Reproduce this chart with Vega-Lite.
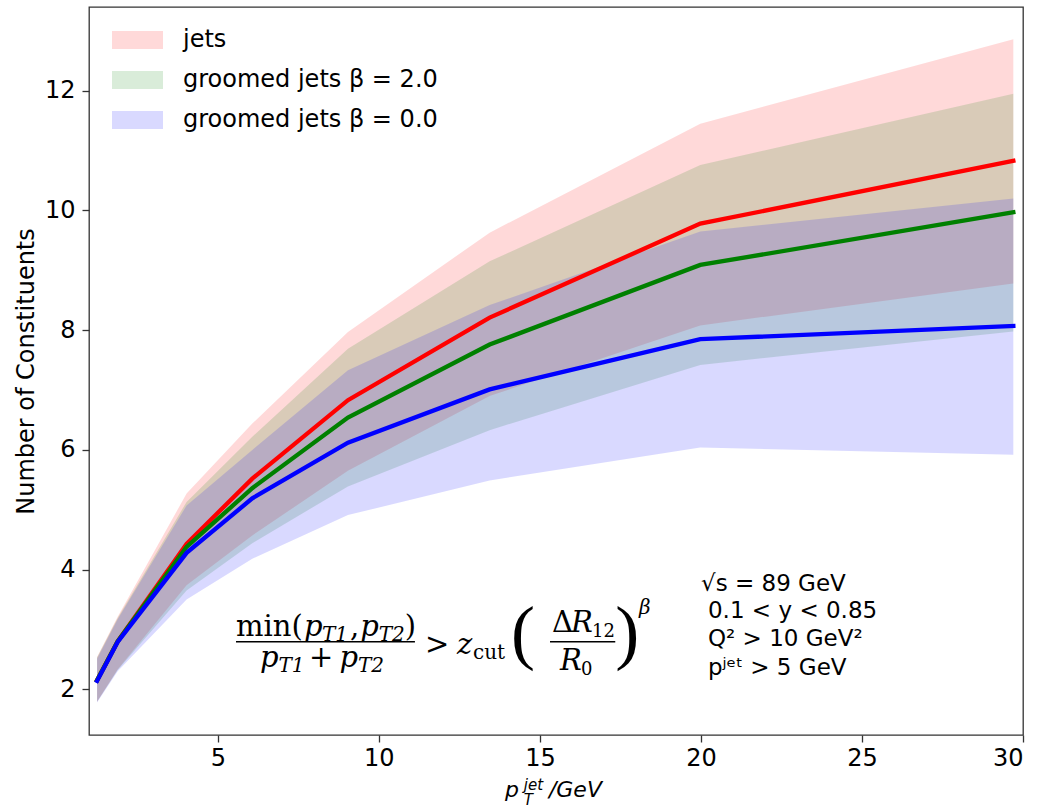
{
  "$schema": "https://vega.github.io/schema/vega-lite/v6.json",
  "width": 934,
  "height": 728,
  "autosize": {"type": "none"},
  "padding": {"left": 89, "top": 7, "right": 15, "bottom": 74},
  "background": "white",
  "config": {
    "font": "DejaVu Sans",
    "view": {"stroke": "#333333", "strokeWidth": 1.3},
    "axis": {
      "grid": false,
      "domain": false,
      "tickColor": "#333333",
      "tickWidth": 1.3,
      "tickSize": 7,
      "labelFont": "DejaVu Sans",
      "labelFontSize": 24,
      "labelColor": "black",
      "titleFont": "DejaVu Sans",
      "titleFontSize": 24,
      "titleColor": "black",
      "titleFontWeight": "normal"
    }
  },
  "datasets": {
    "bands": [
      {"series": "jets", "x": 1.25, "mean": 2.15, "lo": 1.79, "hi": 2.54},
      {"series": "jets", "x": 1.89, "mean": 2.80, "lo": 2.33, "hi": 3.21},
      {"series": "jets", "x": 4.03, "mean": 4.43, "lo": 3.74, "hi": 5.27},
      {"series": "jets", "x": 6.07, "mean": 5.52, "lo": 4.57, "hi": 6.44},
      {"series": "jets", "x": 9.04, "mean": 6.83, "lo": 5.65, "hi": 7.97},
      {"series": "jets", "x": 13.44, "mean": 8.21, "lo": 6.90, "hi": 9.63},
      {"series": "jets", "x": 19.98, "mean": 9.78, "lo": 8.08, "hi": 11.45},
      {"series": "jets", "x": 29.7, "mean": 10.83, "lo": 8.78, "hi": 12.86},
      {"series": "groomed jets β = 2.0", "x": 1.25, "mean": 2.15, "lo": 1.79, "hi": 2.53},
      {"series": "groomed jets β = 2.0", "x": 1.89, "mean": 2.80, "lo": 2.32, "hi": 3.19},
      {"series": "groomed jets β = 2.0", "x": 4.03, "mean": 4.38, "lo": 3.65, "hi": 5.13},
      {"series": "groomed jets β = 2.0", "x": 6.07, "mean": 5.36, "lo": 4.44, "hi": 6.22},
      {"series": "groomed jets β = 2.0", "x": 9.04, "mean": 6.54, "lo": 5.39, "hi": 7.69},
      {"series": "groomed jets β = 2.0", "x": 13.44, "mean": 7.76, "lo": 6.33, "hi": 9.15},
      {"series": "groomed jets β = 2.0", "x": 19.98, "mean": 9.09, "lo": 7.42, "hi": 10.76},
      {"series": "groomed jets β = 2.0", "x": 29.7, "mean": 9.97, "lo": 7.98, "hi": 11.95},
      {"series": "groomed jets β = 0.0", "x": 1.25, "mean": 2.14, "lo": 1.78, "hi": 2.51},
      {"series": "groomed jets β = 0.0", "x": 1.89, "mean": 2.79, "lo": 2.30, "hi": 3.17},
      {"series": "groomed jets β = 0.0", "x": 4.03, "mean": 4.28, "lo": 3.50, "hi": 5.07},
      {"series": "groomed jets β = 0.0", "x": 6.07, "mean": 5.19, "lo": 4.18, "hi": 6.00},
      {"series": "groomed jets β = 0.0", "x": 9.04, "mean": 6.12, "lo": 4.91, "hi": 7.33},
      {"series": "groomed jets β = 0.0", "x": 13.44, "mean": 7.01, "lo": 5.49, "hi": 8.42},
      {"series": "groomed jets β = 0.0", "x": 19.98, "mean": 7.85, "lo": 6.04, "hi": 9.65},
      {"series": "groomed jets β = 0.0", "x": 29.7, "mean": 8.07, "lo": 5.92, "hi": 10.20}
    ]
  },
  "layer": [
    {
      "data": {"name": "bands"},
      "mark": {"type": "area", "fillOpacity": 0.15, "strokeWidth": 0},
      "encoding": {
        "x": {"field": "x", "type": "quantitative",
          "scale": {"domain": [1, 30], "nice": false, "zero": false},
          "axis": {"values": [5, 10, 15, 20, 25, 30], "title": null, "labelPadding": 4, "format": "d"}},
        "y": {"field": "lo", "type": "quantitative",
          "scale": {"domain": [1.236, 13.4], "nice": false, "zero": false},
          "axis": {"values": [2, 4, 6, 8, 10, 12], "format": "d", "title": "Number of Constituents", "labelPadding": 7, "titlePadding": 6}},
        "y2": {"field": "hi"},
        "fill": {"field": "series", "type": "nominal",
          "scale": {"domain": ["jets", "groomed jets β = 2.0", "groomed jets β = 0.0"], "range": ["#ff0000", "#008000", "#0000ff"]},
          "legend": {"title": null, "orient": "none", "legendX": 33.5, "legendY": 18,
            "symbolType": "M-1.7,-0.6H1.7V0.6H-1.7Z", "symbolSize": 900, "symbolOpacity": 0.15,
            "symbolStrokeWidth": 0, "labelFontSize": 24, "labelFont": "DejaVu Sans", "labelColor": "black",
            "labelOffset": 30.5, "rowPadding": 13, "padding": 0, "labelLimit": 500}}
      }
    },
    {
      "data": {"name": "bands"},
      "mark": {"type": "line", "strokeWidth": 4.3, "strokeCap": "square"},
      "encoding": {
        "x": {"field": "x", "type": "quantitative"},
        "y": {"field": "mean", "type": "quantitative"},
        "stroke": {"field": "series", "type": "nominal",
          "scale": {"domain": ["jets", "groomed jets β = 2.0", "groomed jets β = 0.0"], "range": ["#ff0000", "#008000", "#0000ff"]},
          "legend": null}
      }
    },
    {"data": {"values": [{}]}, "mark": {"type": "text", "text": "min(", "font": "DejaVu Serif", "fontSize": 29, "align": "left", "baseline": "alphabetic"}, "encoding": {"x": {"datum": 5.564}, "y": {"datum": 2.890}}},
    {"data": {"values": [{}]}, "mark": {"type": "text", "text": "p", "font": "DejaVu Serif", "fontStyle": "italic", "fontSize": 29, "align": "left", "baseline": "alphabetic"}, "encoding": {"x": {"datum": 7.676}, "y": {"datum": 2.890}}},
    {"data": {"values": [{}]}, "mark": {"type": "text", "text": "T1", "font": "DejaVu Serif", "fontStyle": "italic", "fontSize": 20, "align": "left", "baseline": "alphabetic"}, "encoding": {"x": {"datum": 8.234}, "y": {"datum": 2.807}}},
    {"data": {"values": [{}]}, "mark": {"type": "text", "text": ",", "font": "DejaVu Serif", "fontSize": 29, "align": "left", "baseline": "alphabetic"}, "encoding": {"x": {"datum": 9.10}, "y": {"datum": 2.890}}},
    {"data": {"values": [{}]}, "mark": {"type": "text", "text": "p", "font": "DejaVu Serif", "fontStyle": "italic", "fontSize": 29, "align": "left", "baseline": "alphabetic"}, "encoding": {"x": {"datum": 9.42}, "y": {"datum": 2.890}}},
    {"data": {"values": [{}]}, "mark": {"type": "text", "text": "T2", "font": "DejaVu Serif", "fontStyle": "italic", "fontSize": 20, "align": "left", "baseline": "alphabetic"}, "encoding": {"x": {"datum": 9.995}, "y": {"datum": 2.807}}},
    {"data": {"values": [{}]}, "mark": {"type": "text", "text": ")", "font": "DejaVu Serif", "fontSize": 29, "align": "left", "baseline": "alphabetic"}, "encoding": {"x": {"datum": 10.80}, "y": {"datum": 2.890}}},
    {"data": {"values": [{}]}, "mark": {"type": "rule", "color": "black", "strokeWidth": 1.5}, "encoding": {"x": {"datum": 5.564}, "x2": {"datum": 11.12}, "y": {"datum": 2.795}}},
    {"data": {"values": [{}]}, "mark": {"type": "text", "text": "p", "font": "DejaVu Serif", "fontStyle": "italic", "fontSize": 29, "align": "left", "baseline": "alphabetic"}, "encoding": {"x": {"datum": 6.309}, "y": {"datum": 2.372}}},
    {"data": {"values": [{}]}, "mark": {"type": "text", "text": "T1", "font": "DejaVu Serif", "fontStyle": "italic", "fontSize": 20, "align": "left", "baseline": "alphabetic"}, "encoding": {"x": {"datum": 6.884}, "y": {"datum": 2.289}}},
    {"data": {"values": [{}]}, "mark": {"type": "text", "text": "+", "font": "DejaVu Serif", "fontSize": 29, "align": "left", "baseline": "alphabetic"}, "encoding": {"x": {"datum": 7.831}, "y": {"datum": 2.372}}},
    {"data": {"values": [{}]}, "mark": {"type": "text", "text": "p", "font": "DejaVu Serif", "fontStyle": "italic", "fontSize": 29, "align": "left", "baseline": "alphabetic"}, "encoding": {"x": {"datum": 8.778}, "y": {"datum": 2.372}}},
    {"data": {"values": [{}]}, "mark": {"type": "text", "text": "T2", "font": "DejaVu Serif", "fontStyle": "italic", "fontSize": 20, "align": "left", "baseline": "alphabetic"}, "encoding": {"x": {"datum": 9.352}, "y": {"datum": 2.289}}},
    {"data": {"values": [{}]}, "mark": {"type": "text", "text": ">", "font": "DejaVu Serif", "fontSize": 29, "align": "left", "baseline": "alphabetic"}, "encoding": {"x": {"datum": 11.433}, "y": {"datum": 2.590}}},
    {"data": {"values": [{}]}, "mark": {"type": "text", "text": "z", "font": "DejaVu Serif", "fontStyle": "italic", "fontSize": 29, "align": "left", "baseline": "alphabetic"}, "encoding": {"x": {"datum": 12.426}, "y": {"datum": 2.590}}},
    {"data": {"values": [{}]}, "mark": {"type": "text", "text": "cut", "font": "DejaVu Serif", "fontSize": 20, "align": "left", "baseline": "alphabetic"}, "encoding": {"x": {"datum": 12.923}, "y": {"datum": 2.506}}},
    {"data": {"values": [{}]}, "mark": {"type": "text", "text": "(", "font": "Liberation Serif", "fontSize": 72, "align": "left", "baseline": "alphabetic"}, "encoding": {"x": {"datum": 14.103}, "y": {"datum": 2.556}}},
    {"data": {"values": [{}]}, "mark": {"type": "text", "text": "Δ", "font": "DejaVu Serif", "fontSize": 29, "align": "left", "baseline": "alphabetic"}, "encoding": {"x": {"datum": 15.376}, "y": {"datum": 2.957}}},
    {"data": {"values": [{}]}, "mark": {"type": "text", "text": "R", "font": "DejaVu Serif", "fontStyle": "italic", "fontSize": 29, "align": "left", "baseline": "alphabetic"}, "encoding": {"x": {"datum": 15.966}, "y": {"datum": 2.957}}},
    {"data": {"values": [{}]}, "mark": {"type": "text", "text": "12", "font": "DejaVu Serif", "fontSize": 18, "align": "left", "baseline": "alphabetic"}, "encoding": {"x": {"datum": 16.62}, "y": {"datum": 2.874}}},
    {"data": {"values": [{}]}, "mark": {"type": "rule", "color": "black", "strokeWidth": 1.5}, "encoding": {"x": {"datum": 15.314}, "x2": {"datum": 17.34}, "y": {"datum": 2.795}}},
    {"data": {"values": [{}]}, "mark": {"type": "text", "text": "R", "font": "DejaVu Serif", "fontStyle": "italic", "fontSize": 29, "align": "left", "baseline": "alphabetic"}, "encoding": {"x": {"datum": 15.624}, "y": {"datum": 2.322}}},
    {"data": {"values": [{}]}, "mark": {"type": "text", "text": "0", "font": "DejaVu Serif", "fontSize": 18, "align": "left", "baseline": "alphabetic"}, "encoding": {"x": {"datum": 16.276}, "y": {"datum": 2.239}}},
    {"data": {"values": [{}]}, "mark": {"type": "text", "text": ")", "font": "Liberation Serif", "fontSize": 72, "align": "left", "baseline": "alphabetic"}, "encoding": {"x": {"datum": 17.34}, "y": {"datum": 2.556}}},
    {"data": {"values": [{}]}, "mark": {"type": "text", "text": "β", "font": "DejaVu Serif", "fontStyle": "italic", "fontSize": 20, "align": "left", "baseline": "alphabetic"}, "encoding": {"x": {"datum": 18.08}, "y": {"datum": 3.258}}},
    {"data": {"values": [{}]}, "mark": {"type": "text", "text": "√s = 89 GeV", "font": "DejaVu Sans", "fontSize": 23, "align": "left", "baseline": "alphabetic"}, "encoding": {"x": {"datum": 20.002}, "y": {"datum": 3.642}}},
    {"data": {"values": [{}]}, "mark": {"type": "text", "text": "0.1 < y < 0.85", "font": "DejaVu Sans", "fontSize": 23, "align": "left", "baseline": "alphabetic"}, "encoding": {"x": {"datum": 20.219}, "y": {"datum": 3.191}}},
    {"data": {"values": [{}]}, "mark": {"type": "text", "text": "Q² > 10 GeV²", "font": "DejaVu Sans", "fontSize": 23, "align": "left", "baseline": "alphabetic"}, "encoding": {"x": {"datum": 20.219}, "y": {"datum": 2.723}}},
    {"data": {"values": [{}]}, "mark": {"type": "text", "text": "pʲᵉᵗ > 5 GeV", "font": "DejaVu Sans", "fontSize": 23, "align": "left", "baseline": "alphabetic"}, "encoding": {"x": {"datum": 20.219}, "y": {"datum": 2.239}}},
    {"data": {"values": [{}]}, "mark": {"type": "text", "text": "p", "font": "DejaVu Sans", "fontStyle": "italic", "fontSize": 22, "align": "left", "baseline": "alphabetic"}, "encoding": {"x": {"datum": 13.916}, "y": {"datum": 0.20}}},
    {"data": {"values": [{}]}, "mark": {"type": "text", "text": "jet", "font": "DejaVu Sans", "fontStyle": "italic", "fontSize": 15, "align": "left", "baseline": "alphabetic"}, "encoding": {"x": {"datum": 14.50}, "y": {"datum": 0.317}}},
    {"data": {"values": [{}]}, "mark": {"type": "text", "text": "T", "font": "DejaVu Sans", "fontStyle": "italic", "fontSize": 15, "align": "left", "baseline": "alphabetic"}, "encoding": {"x": {"datum": 14.50}, "y": {"datum": 0.066}}},
    {"data": {"values": [{}]}, "mark": {"type": "text", "text": "/GeV", "font": "DejaVu Sans", "fontStyle": "italic", "fontSize": 22, "align": "left", "baseline": "alphabetic"}, "encoding": {"x": {"datum": 15.28}, "y": {"datum": 0.20}}}
  ]
}
